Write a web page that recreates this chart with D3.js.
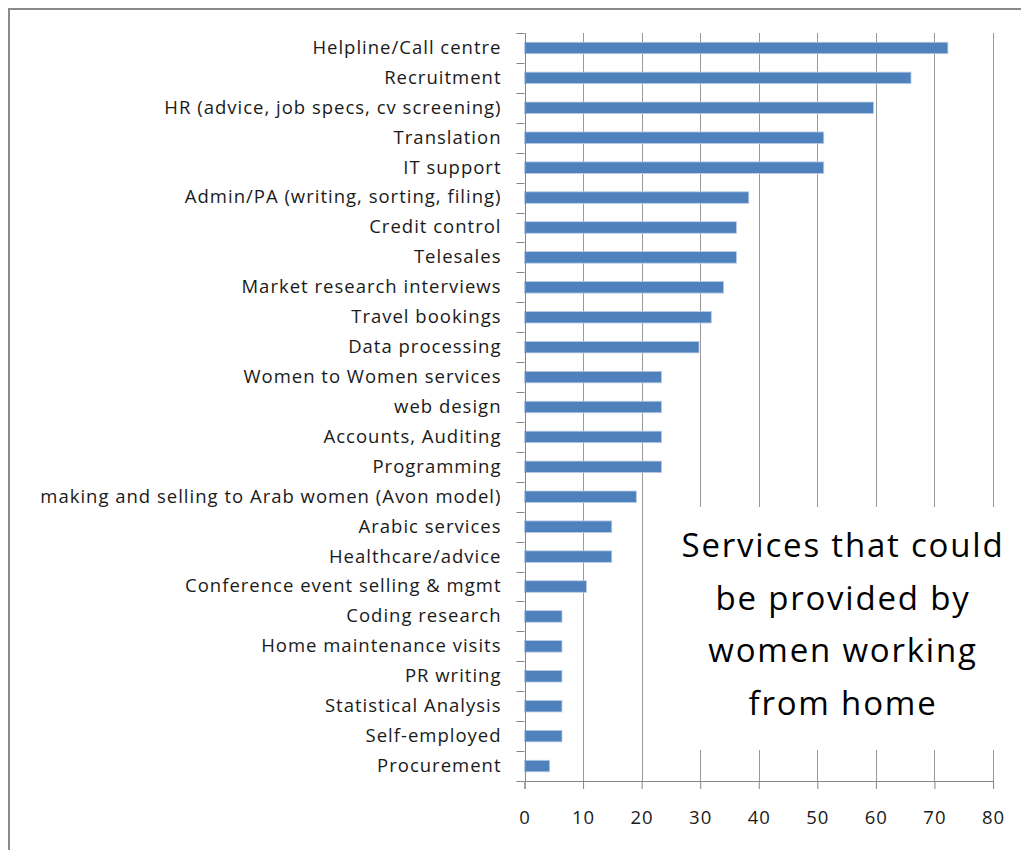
<!DOCTYPE html>
<html>
<head>
<meta charset="utf-8">
<script src="https://cdn.jsdelivr.net/npm/d3@7"></script>
<style>
  html, body { margin: 0; padding: 0; background: #fff; }
  svg { display: block; }
  .lbl text { font-family: "Open Sans", Lato, sans-serif; fill: #1a1a1a; letter-spacing: 1px; }
</style>
</head>
<body>
<svg id="chart" width="1021" height="850"></svg>
<script>
// Services (top to bottom) and share of respondents (%)
const categories = [
  "Helpline/Call centre",
  "Recruitment",
  "HR (advice, job specs, cv screening)",
  "Translation",
  "IT support",
  "Admin/PA (writing, sorting, filing)",
  "Credit control",
  "Telesales",
  "Market research interviews",
  "Travel bookings",
  "Data processing",
  "Women to Women services",
  "web design",
  "Accounts, Auditing",
  "Programming",
  "making and selling to Arab women (Avon model)",
  "Arabic services",
  "Healthcare/advice",
  "Conference event selling & mgmt",
  "Coding research",
  "Home maintenance visits",
  "PR writing",
  "Statistical Analysis",
  "Self-employed",
  "Procurement"
];
const values = [72.3, 66.0, 59.6, 51.1, 51.1, 38.3, 36.2, 36.2, 34.0, 31.9, 29.8,
  23.4, 23.4, 23.4, 23.4, 19.1, 14.9, 14.9, 10.6, 6.4, 6.4, 6.4, 6.4, 6.4, 4.3];
const xTicks = [0, 10, 20, 30, 40, 50, 60, 70, 80];
const titleLines = ["Services that could", "be provided by", "women working", "from home"];

const svg = d3.select("#chart");

// outer frame (top and left edges)
svg.append("path")
  .attr("d", "M9,850 V9 H1021")
  .attr("fill", "none")
  .attr("stroke", "#8a8a8a")
  .attr("stroke-width", 2);

const plot = { left: 524.5, right: 993, top: 33, bottom: 781 };

const x = d3.scaleLinear().domain([0, 80]).range([plot.left, plot.right]);
const y = d3.scaleBand().domain(categories).range([plot.top, plot.bottom]).padding(0);
const barH = 11.5;

// vertical gridlines
svg.append("g").selectAll("line")
  .data(xTicks.filter(d => d > 0))
  .join("line")
  .attr("x1", d => Math.round(x(d)) + 0.5)
  .attr("x2", d => Math.round(x(d)) + 0.5)
  .attr("y1", plot.top)
  .attr("y2", plot.bottom)
  .attr("stroke", "#9a9a9a")
  .attr("stroke-width", 1);

// bars
svg.append("g").selectAll("rect")
  .data(categories.map((c, i) => ({ c, v: values[i] })))
  .join("rect")
  .attr("x", x(0))
  .attr("y", d => y(d.c) + (y.bandwidth() - barH) / 2)
  .attr("width", d => x(d.v) - x(0))
  .attr("height", barH)
  .attr("fill", "#4f81bd")
  .attr("stroke", "#b9cde5")
  .attr("stroke-width", 0.8);

// white box holding the title, sitting over the gridlines
svg.append("rect")
  .attr("x", 668).attr("y", 507)
  .attr("width", 353).attr("height", 243)
  .attr("fill", "#fff");

const title = svg.append("text")
  .attr("class", "title")
  .attr("text-anchor", "middle")
  .attr("font-family", "'Open Sans', Lato, sans-serif")
  .attr("font-size", 33)
  .attr("letter-spacing", "1.8px")
  .attr("fill", "#000");
titleLines.forEach((t, i) => {
  title.append("tspan").attr("x", 843).attr("y", 557 + i * 52.5).text(t);
});

// x axis
const xAxis = d3.axisBottom(x).tickValues(xTicks).tickSize(8).tickPadding(22);
const gx = svg.append("g")
  .attr("class", "lbl")
  .attr("transform", `translate(0,${plot.bottom})`)
  .call(xAxis);
gx.select(".domain").attr("stroke", "#868686");
gx.selectAll(".tick line").attr("stroke", "#868686");
gx.selectAll(".tick text").attr("font-size", 18.5).attr("fill", "#1a1a1a");

// y axis: category labels at band centres, tick marks on band boundaries
const yAxis = d3.axisLeft(y).tickSize(0).tickPadding(23);
const gy = svg.append("g")
  .attr("class", "lbl")
  .attr("transform", `translate(${plot.left},0)`)
  .call(yAxis);
gy.select(".domain").remove();
gy.selectAll(".tick text").attr("font-size", 18.5).attr("fill", "#1a1a1a");

const bounds = categories.map(c => y(c)).concat([plot.bottom]);
svg.append("g").selectAll("line")
  .data(bounds)
  .join("line")
  .attr("x1", plot.left - 8)
  .attr("x2", plot.left)
  .attr("y1", d => Math.round(d) + 0.5)
  .attr("y2", d => Math.round(d) + 0.5)
  .attr("stroke", "#868686");
svg.append("line")
  .attr("x1", Math.round(plot.left) + 0.5).attr("x2", Math.round(plot.left) + 0.5)
  .attr("y1", plot.top).attr("y2", plot.bottom)
  .attr("stroke", "#868686");
</script>
</body>
</html>
